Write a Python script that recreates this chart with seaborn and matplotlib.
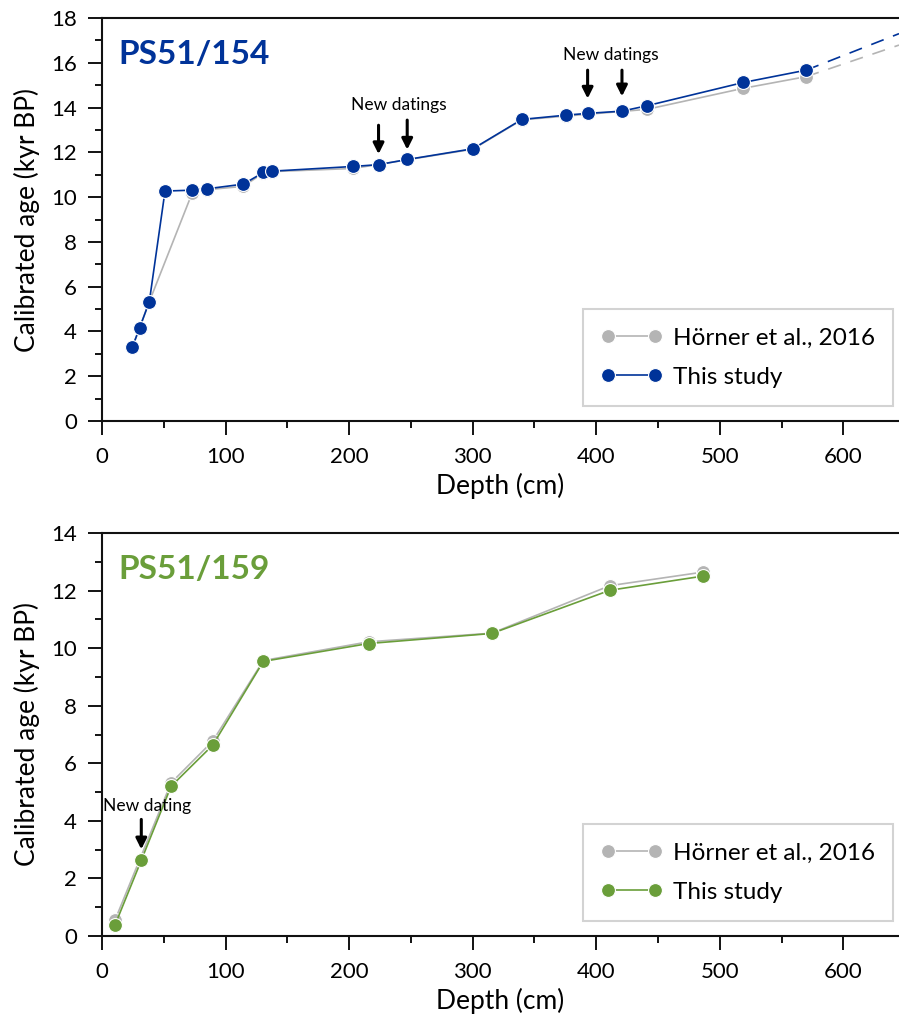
"""
Age-depth models for cores PS51/154 and PS51/159.
Compares the published age model (Hörner et al., 2016) with this study.
"""

import matplotlib
matplotlib.use("Agg")
import matplotlib.pyplot as plt
import seaborn as sns

# ---- PS51/154 ----
depth_154 = [24.5, 30.5, 38.3, 51.0, 73.1, 84.8, 114.4, 130.6, 137.9, 203.5,
             223.8, 247.0, 300.2, 339.8, 375.4, 393.0, 420.8, 441.0, 519.0, 569.8]
age_154 = [3.29, 4.17, 5.33, 10.27, 10.31, 10.37, 10.58, 11.10, 11.16, 11.37,
           11.45, 11.68, 12.16, 13.47, 13.66, 13.74, 13.84, 14.08, 15.12, 15.67]
depth_154_horner = [24.5, 30.5, 38.3, 73.1, 84.8, 114.4, 130.6, 137.9, 203.5,
                    300.2, 339.8, 375.4, 441.0, 519.0, 569.8]
age_154_horner = [3.29, 4.17, 5.33, 10.20, 10.33, 10.48, 11.08, 11.14, 11.28,
                  12.14, 13.45, 13.62, 13.92, 14.86, 15.38]
# extrapolation below the last dated level
extrap_depth_154 = [569.8, 645.0]
extrap_age_154 = [15.67, 17.30]
extrap_age_154_horner = [15.38, 16.79]
new_154 = [223.8, 247.0, 393.0, 420.8]

# ---- PS51/159 ----
depth_159 = [10.5, 31.8, 55.9, 89.6, 130.6, 215.7, 315.5, 411.0, 486.0]
age_159 = [0.38, 2.63, 5.20, 6.63, 9.54, 10.16, 10.51, 12.01, 12.50]
depth_159_horner = [10.5, 55.9, 89.6, 130.6, 215.7, 315.5, 411.0, 486.0]
age_159_horner = [0.55, 5.32, 6.77, 9.57, 10.22, 10.52, 12.17, 12.64]
new_159 = [31.8]

BLUE = "#003399"
GREEN = "#6a9e3a"
GREY = "#b4b4b4"

sns.set_style("white")
plt.rcParams["font.family"] = ["Lato", "DejaVu Sans"]
plt.rcParams["text.color"] = "black"
plt.rcParams["axes.labelcolor"] = "black"
plt.rcParams["xtick.color"] = "black"
plt.rcParams["ytick.color"] = "black"


def style_axis(ax, ymax):
    ax.set_xlim(0, 645)
    ax.set_ylim(0, ymax)
    ax.set_xticks(range(0, 601, 100))
    ax.set_xticks(range(50, 601, 100), minor=True)
    ax.set_yticks(range(0, ymax + 1, 2))
    ax.set_yticks(range(1, ymax, 2), minor=True)
    ax.tick_params(which="major", length=10, width=1.3, labelsize=16,
                   direction="out")
    ax.tick_params(which="minor", length=5, width=1.3, direction="out")
    ax.tick_params(axis="x", which="major", pad=9)
    ax.tick_params(axis="y", which="major", pad=8)
    ax.tick_params(bottom=True, left=True, which="both")
    for side in ["left", "bottom", "top"]:
        ax.spines[side].set_linewidth(1.5)
        ax.spines[side].set_color("#111111")
    ax.spines["right"].set_visible(False)
    ax.set_xlabel("Depth (cm)", fontsize=19, labelpad=4)
    ax.set_ylabel("Calibrated age (kyr BP)", fontsize=19, labelpad=8)


def plot_core(ax, xh, yh, x, y, colour, name):
    sns.lineplot(x=xh, y=yh, ax=ax, color=GREY, lw=1.2, marker="o",
                 markersize=10, markeredgecolor="white", markeredgewidth=0.8,
                 label="Hörner et al., 2016", sort=False)
    sns.lineplot(x=x, y=y, ax=ax, color=colour, lw=1.2, marker="o",
                 markersize=10, markeredgecolor="white", markeredgewidth=0.8,
                 label="This study", sort=False)
    ax.text(0.021, 0.91, name, transform=ax.transAxes, fontsize=24,
            fontweight="bold", color=colour, va="center", ha="left")
    leg = ax.legend(loc="lower right", bbox_to_anchor=(0.9925, 0.037),
                    numpoints=2, fontsize=17.5, frameon=True, fancybox=False,
                    handlelength=2.5, handletextpad=0.45, labelspacing=0.75,
                    borderpad=0.75, borderaxespad=0)
    leg.get_frame().set_edgecolor("#c8c8c8")
    leg.get_frame().set_linewidth(1.5)


def add_arrow(ax, x, y_top, y_tip):
    ax.annotate("", xy=(x, y_tip), xytext=(x, y_top),
                arrowprops=dict(arrowstyle="-|>", color="black", lw=2.2,
                                mutation_scale=16, shrinkA=0, shrinkB=0))


fig, (ax1, ax2) = plt.subplots(2, 1, figsize=(8.99, 10.32), dpi=100)
ax1.set_position([102 / 899, 1 - 421 / 1032, 797 / 899, 403 / 1032])
ax2.set_position([102 / 899, 1 - 936 / 1032, 797 / 899, 403 / 1032])

# top panel
ax1.plot(extrap_depth_154, extrap_age_154_horner, color=GREY, lw=1.2,
         dashes=(8, 6), zorder=1)
ax1.plot(extrap_depth_154, extrap_age_154, color=BLUE, lw=1.2,
         dashes=(8, 6), zorder=1)
plot_core(ax1, depth_154_horner, age_154_horner, depth_154, age_154,
          BLUE, "PS51/154")
style_axis(ax1, 18)
add_arrow(ax1, new_154[0], 13.21, 11.92)
add_arrow(ax1, new_154[1], 13.44, 12.12)
add_arrow(ax1, new_154[2], 15.67, 14.40)
add_arrow(ax1, new_154[3], 15.67, 14.50)
ax1.text(240, 14.1, "New datings", fontsize=12.5, ha="center", va="center")
ax1.text(412, 16.34, "New datings", fontsize=12.5, ha="center", va="center")

# bottom panel
plot_core(ax2, depth_159_horner, age_159_horner, depth_159, age_159,
          GREEN, "PS51/159")
style_axis(ax2, 14)
add_arrow(ax2, new_159[0], 4.05, 3.01)
ax2.text(36.4, 4.51, "New dating", fontsize=12.5, ha="center", va="center")

fig.savefig("out.png", dpi=100)
